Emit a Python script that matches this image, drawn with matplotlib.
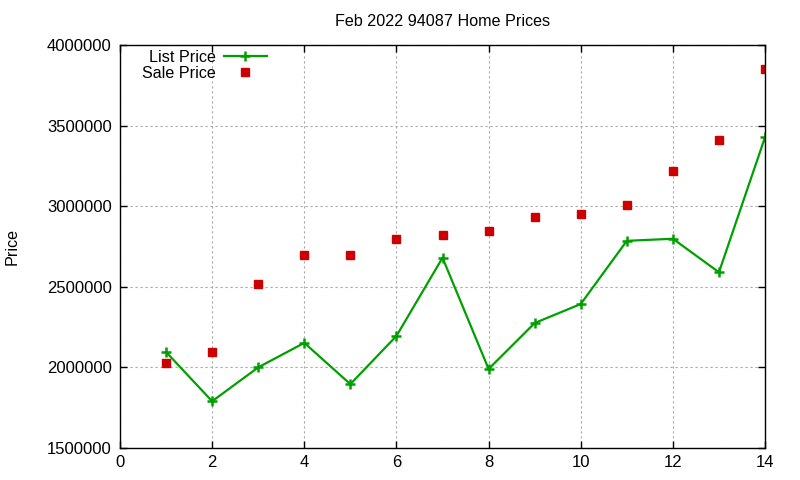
import matplotlib
matplotlib.use("Agg")
import matplotlib.pyplot as plt
from matplotlib.ticker import MultipleLocator

plt.rcParams['font.family'] = ['Liberation Sans', 'DejaVu Sans']

months = [1, 2, 3, 4, 5, 6, 7, 8, 9, 10, 11, 12, 13, 14]
list_price = [2095000, 1790000, 2000000, 2152000, 1896000, 2195000, 2680000,
              1990000, 2275000, 2393000, 2785000, 2798000, 2590000, 3428000]
sale_price = [2030000, 2097000, 2515000, 2700000, 2700000, 2797000, 2823000,
              2848000, 2935000, 2950000, 3008000, 3220000, 3410000, 3850000]
title = "Feb 2022 94087 Home Prices"

fig = plt.figure(figsize=(8, 4.8), dpi=100)
ax = fig.add_axes([0.15, 0.0667, 0.8063, 0.8396])

ax.plot(months, list_price, color='#00a000', lw=1.6, marker='+', ms=6.5, mew=1.8,
        label='List Price')
ax.plot(months, sale_price, color='#cc0000', ls='none', marker='s', ms=6,
        label='Sale Price')

ax.set_xlim(0, 14)
ax.set_ylim(1500000, 4000000)
ax.xaxis.set_major_locator(MultipleLocator(2))
ax.yaxis.set_major_locator(MultipleLocator(500000))
ax.ticklabel_format(style='plain', axis='y', useOffset=False)
ax.tick_params(direction='in', top=True, right=True, labelsize=12, length=5,
               width=1)
ax.tick_params(axis='y', pad=6)
ax.tick_params(axis='x', pad=5)
ax.grid(True, color='#a8a8a8', ls=(0, (2, 2.5)), lw=0.8)
for s in ax.spines.values():
    s.set_linewidth(1)

ax.set_title(title, fontsize=11.6, pad=14)
ax.set_ylabel('Price', fontsize=11.6, labelpad=19.5)

leg = fig.legend(loc='upper right', bbox_to_anchor=(267 / 800, 1 - 50 / 480),
                 markerfirst=False, frameon=False, fontsize=11.6,
                 handlelength=2.7, handletextpad=0.5, labelspacing=0.05,
                 borderaxespad=0, borderpad=0)

fig.savefig('out.png', dpi=100)
